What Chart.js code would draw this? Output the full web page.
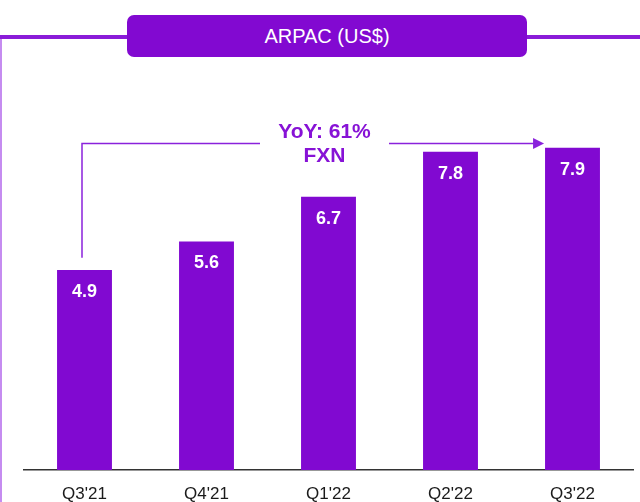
<!DOCTYPE html>
<html>
<head>
<meta charset="utf-8">
<script src="https://cdn.jsdelivr.net/npm/chart.js@4.4.1/dist/chart.umd.min.js"></script>
<style>
  html, body { margin: 0; padding: 0; background: #fff; }
  #wrap { position: relative; width: 640px; height: 502px; overflow: hidden; font-family: "Liberation Sans", Arial, sans-serif; }
  #topline { position: absolute; left: 0; top: 35px; width: 640px; height: 4px; background: #8a1cd8; }
  #leftline { position: absolute; left: 0; top: 39px; width: 2px; height: 470px; background: #c58cf0; }
  #titlebox { position: absolute; left: 127px; top: 15px; width: 400px; height: 42px; background: #8209d1; border-radius: 7px; color: #fff; font-size: 20px; line-height: 42px; text-align: center; z-index: 2; }
  canvas { position: absolute; left: 0; top: 0; }
</style>
</head>
<body>
<div id="wrap">
  <div id="topline"></div>
  <div id="leftline"></div>
  <div id="titlebox">ARPAC (US$)</div>
  <canvas id="c" width="640" height="502"></canvas>
</div>
<script>
const categories = ["Q3'21", "Q4'21", "Q1'22", "Q2'22", "Q3'22"];
const arpac = [4.9, 5.6, 6.7, 7.8, 7.9];
const valueLabels = ["4.9", "5.6", "6.7", "7.8", "7.9"];
const yoyText = ["YoY: 61%", "FXN"];
const bracketLevel = 8.0;   // value level of the YoY arrow line
const bracketFoot = 5.2;    // value level where the left leg ends

const purple = '#8109d1';
const linePurple = '#8a22dc';

const labelsPlugin = {
  id: 'valueLabels',
  afterDatasetsDraw(chart) {
    const ctx = chart.ctx;
    const meta = chart.getDatasetMeta(0);
    ctx.save();
    ctx.fillStyle = '#ffffff';
    ctx.font = 'bold 18px "Liberation Sans", Arial, sans-serif';
    ctx.textAlign = 'center';
    ctx.textBaseline = 'middle';
    meta.data.forEach((bar, i) => {
      ctx.fillText(valueLabels[i], bar.x, bar.y + 22);
    });
    ctx.restore();
  }
};

const arrowPlugin = {
  id: 'yoyArrow',
  afterDatasetsDraw(chart) {
    const ctx = chart.ctx;
    const meta = chart.getDatasetMeta(0);
    const ys = chart.scales.y;
    const b0 = meta.data[0], b2 = meta.data[2], b4 = meta.data[4];
    const xLeft = b0.x - 2.5;
    const yLine = ys.getPixelForValue(bracketLevel);
    const yFoot = ys.getPixelForValue(bracketFoot);
    const xText = b2.x - 4;
    const gap = 64.5;
    const xTip = b4.x - b4.width / 2 - 1;
    ctx.save();
    ctx.strokeStyle = linePurple;
    ctx.lineWidth = 1.5;
    ctx.beginPath();
    ctx.moveTo(xLeft, yFoot);
    ctx.lineTo(xLeft, yLine);
    ctx.lineTo(xText - gap, yLine);
    ctx.moveTo(xText + gap, yLine);
    ctx.lineTo(xTip - 10, yLine);
    ctx.stroke();
    ctx.fillStyle = linePurple;
    ctx.beginPath();
    ctx.moveTo(xTip, yLine);
    ctx.lineTo(xTip - 11, yLine - 5.5);
    ctx.lineTo(xTip - 11, yLine + 5.5);
    ctx.closePath();
    ctx.fill();
    ctx.fillStyle = '#8712d6';
    ctx.font = 'bold 21px "Liberation Sans", Arial, sans-serif';
    ctx.textAlign = 'center';
    ctx.textBaseline = 'middle';
    ctx.fillText(yoyText[0], xText, yLine - 11);
    ctx.fillText(yoyText[1], xText, yLine + 12.5);
    ctx.restore();
  }
};

new Chart(document.getElementById('c'), {
  type: 'bar',
  data: {
    labels: categories,
    datasets: [{
      data: arpac,
      backgroundColor: purple,
      borderWidth: 0,
      barPercentage: 0.45,
      categoryPercentage: 1.0
    }]
  },
  options: {
    responsive: false,
    animation: false,
    events: [],
    layout: { padding: { left: 23.5, right: 6.5, top: 62, bottom: -17 } },
    plugins: { legend: { display: false }, tooltip: { enabled: false }, title: { display: false } },
    scales: {
      x: {
        grid: { display: false, drawTicks: false },
        border: { display: true, color: '#333333', width: 1.5 },
        ticks: {
          color: '#1a1a1a',
          padding: 16,
          font: { family: '"Liberation Sans", Arial, sans-serif', size: 17, lineHeight: 1.0 }
        }
      },
      y: {
        display: false,
        min: 0,
        max: 10
      }
    }
  },
  plugins: [labelsPlugin, arrowPlugin]
});
</script>
</body>
</html>
